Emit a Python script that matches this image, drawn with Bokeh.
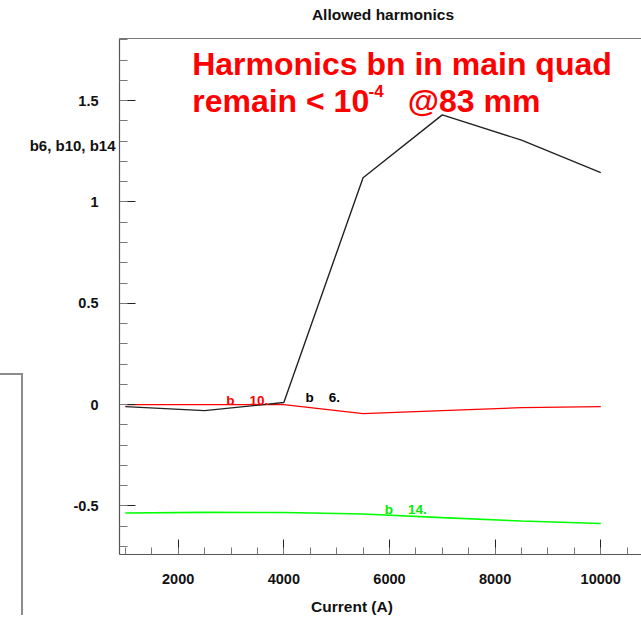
from bokeh.plotting import figure
from bokeh.models import Label, LinearAxis, FixedTicker, Range1d, Div, Spacer
from bokeh.layouts import row, column
from bokeh.embed import file_html
from bokeh.resources import INLINE

# ---- data ----
current = [1000, 2500, 4000, 5500, 7000, 8500, 10000]
b6 = [-0.01, -0.03, 0.01, 1.12, 1.43, 1.305, 1.145]
b10 = [0.0, 0.0, 0.0, -0.045, -0.03, -0.015, -0.01]
b14 = [-0.535, -0.532, -0.533, -0.54, -0.558, -0.575, -0.587]

x_major = [2000, 4000, 6000, 8000, 10000]
y_major = [-0.5, 0, 0.5, 1, 1.5]
y_tick_labels = ["-0.5", "0", "0.5", "1", "1.5"]

title_text = "Allowed harmonics"
x_title = "Current (A)"
y_title = "b6, b10, b14"

# ---- geometry ----
X_START, X_END = 889, 10771
Y_START, Y_END = -0.740, 1.807
FONT = "Liberation Sans"
DECO_W = 24
W, H = 641 - DECO_W, 617
ML, MT, MB = 95, 38, 63
# page coordinates of the frame
FR_L, FR_R, FR_T, FR_B = DECO_W + ML, 641, MT, H - MB


def dx(px):
    return X_START + (px - FR_L) * (X_END - X_START) / (FR_R - FR_L)


def dy(py):
    return Y_END - (py - FR_T) * (Y_END - Y_START) / (FR_B - FR_T)


p = figure(width=W, height=H, x_range=Range1d(X_START, X_END),
           y_range=Range1d(Y_START, Y_END), output_backend="svg",
           toolbar_location=None, x_axis_type=None, y_axis_type=None,
           min_border_left=ML, min_border_right=0, min_border_top=MT,
           min_border_bottom=MB, margin=0)
p.outline_line_color = None
p.background_fill_color = "white"
p.border_fill_color = "white"

x_minor = [1000 + 500 * i for i in range(20)]
y_minor = [round(-0.7 + 0.1 * i, 1) for i in range(26)]

xaxis = LinearAxis(ticker=FixedTicker(ticks=x_major, minor_ticks=x_minor))
yaxis = LinearAxis(ticker=FixedTicker(ticks=y_major, minor_ticks=y_minor),
                   major_label_overrides={v: s for v, s in zip(y_major, y_tick_labels)})
for ax in (xaxis, yaxis):
    ax.major_tick_out = 0
    ax.minor_tick_out = 0
    ax.axis_line_color = "#555555"
    ax.axis_line_width = 1.2
    ax.major_tick_line_color = "#222222"
    ax.minor_tick_line_color = "#777777"
    ax.major_label_text_font = FONT
    ax.major_label_text_font_style = "bold"
    ax.major_label_text_font_size = "14.5px"
    ax.major_label_text_color = "#111111"
xaxis.major_tick_in = 15
xaxis.minor_tick_in = 7
xaxis.major_label_standoff = 19
yaxis.major_tick_in = 16
yaxis.minor_tick_in = 8
yaxis.major_label_standoff = 21
p.add_layout(xaxis, "below")
p.add_layout(yaxis, "left")


def title_axis(tick, text, standoff, size, line_color=None):
    ax = LinearAxis(ticker=FixedTicker(ticks=[tick], minor_ticks=[]),
                    major_label_overrides={tick: text},
                    major_tick_in=0, major_tick_out=0,
                    minor_tick_in=0, minor_tick_out=0,
                    major_label_standoff=standoff,
                    major_label_text_font=FONT,
                    major_label_text_font_style="bold",
                    major_label_text_font_size=size,
                    major_label_text_color="#111111",
                    axis_line_color=line_color)
    return ax


# top: frame border line + title
p.add_layout(title_axis(5877, title_text, 16, "15.5px", "#777777"), "above")
# bottom: x title
p.add_layout(title_axis(5290, x_title, 11, "15.5px"), "below")
# left: y title, horizontal, near the top
p.add_layout(title_axis(1.28, y_title, -45, "15px"), "left")

# ---- series ----
p.line(current, b14, line_color="#00ff00", line_width=1.6)
p.line(current, b10, line_color="#ff0000", line_width=1.3)
p.line(current, b6, line_color="#222222", line_width=1.4)


def lab(px, py, text, size, color="black"):
    p.add_layout(Label(x=dx(px), y=dy(py), text=text, text_font=FONT,
                       text_font_style="bold", text_font_size=size,
                       text_color=color, text_align="left",
                       text_baseline="alphabetic"))


NB = "\u00a0"
lab(225.7, 400, "b" + NB * 4 + "10.", "13.5px", "#ff0000")
lab(305, 397.3, "b" + NB * 4 + "6.", "13.5px", "black")
lab(384.3, 509.3, "b" + NB * 4 + "14.", "13.5px", "#00ee00")

# red note
lab(191.7, 63.3, "Harmonics bn in main quad", "32px", "#ff0000")
lab(191.7, 100, "remain < 10", "32px", "#ff0000")
lab(368, 90.5, "-4", "17px", "#ff0000")
lab(407.3, 100, "@83 mm", "32px", "#ff0000")

# ---- decoration (edge of a neighbouring pad) ----
deco = column(Spacer(width=DECO_W, height=373, margin=0),
              Div(text="", width=DECO_W - 1, height=H - 375, margin=0,
                  styles={"border-top": "2px solid #8c8c8c",
                          "border-right": "2px solid #8c8c8c"}),
              margin=0, spacing=0)

layout = row(deco, p, margin=0, spacing=0)
open("out.html", "w").write(file_html(layout, INLINE))
